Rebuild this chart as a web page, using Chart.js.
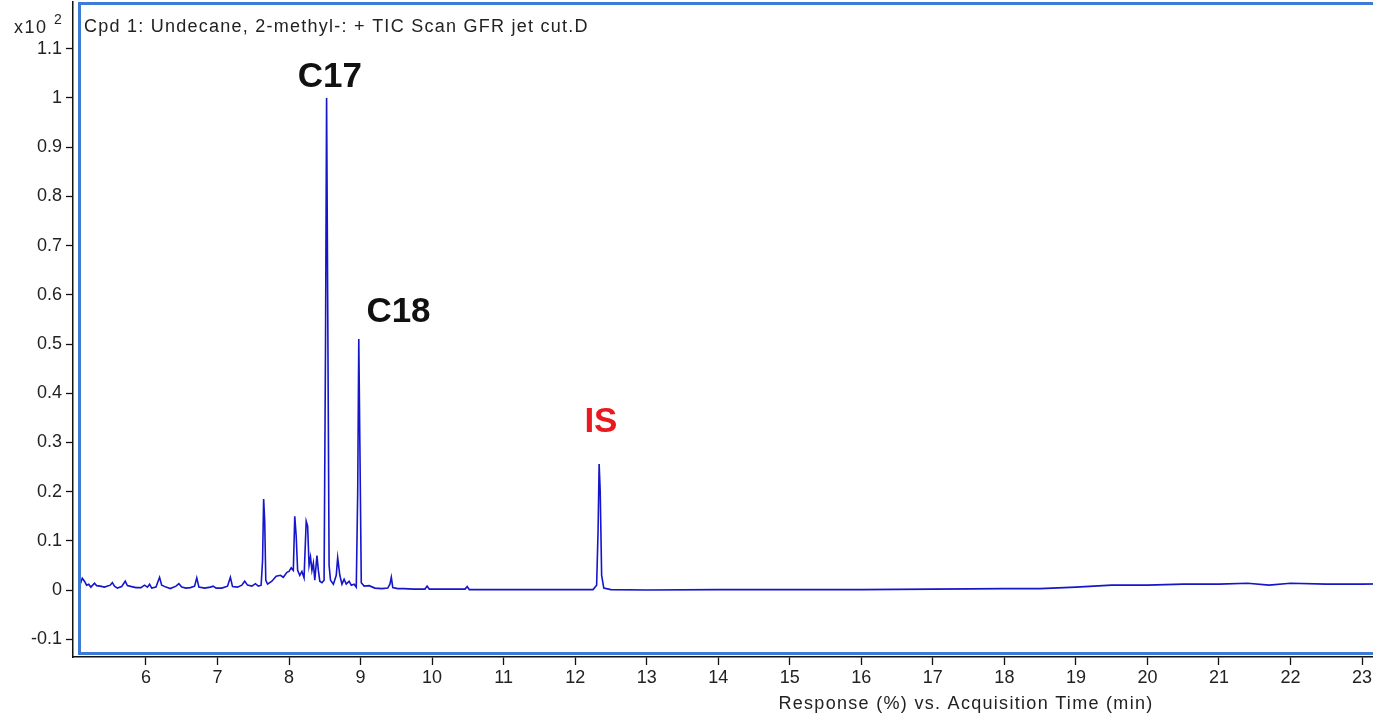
<!DOCTYPE html>
<html>
<head>
<meta charset="utf-8">
<script src="https://cdn.jsdelivr.net/npm/chart.js@4/dist/chart.umd.min.js"></script>
<style>
  html, body { margin: 0; padding: 0; background: #fff; overflow: hidden; }
  #wrap { width: 1420px; height: 714px; }
</style>
</head>
<body>
<div id="wrap"><canvas id="tic" width="1420" height="714"></canvas></div>
<script>
// acquisition time (min) and response (x10^2 %)
const times = [
  5.06, 5.08, 5.11, 5.14, 5.17, 5.20, 5.23, 5.28, 5.31, 5.36, 5.42, 5.50, 5.53, 5.56, 5.60,
  5.66, 5.71, 5.74, 5.80, 5.86, 5.93, 5.98, 6.02, 6.05, 6.08, 6.14, 6.19, 6.22, 6.28, 6.34,
  6.42, 6.46, 6.50, 6.56, 6.62, 6.68, 6.71, 6.74, 6.82, 6.90, 6.94, 6.98, 7.06, 7.14, 7.18,
  7.21, 7.28, 7.34, 7.38, 7.42, 7.48, 7.53, 7.57, 7.61, 7.63, 7.645, 7.66, 7.675, 7.70, 7.76,
  7.82, 7.88, 7.92, 7.97, 8.00, 8.03, 8.06, 8.08, 8.10, 8.12, 8.15, 8.18, 8.21, 8.24, 8.26,
  8.28, 8.30, 8.32, 8.34, 8.36, 8.39, 8.41, 8.43, 8.46, 8.49, 8.51, 8.525, 8.54, 8.56, 8.58,
  8.62, 8.66, 8.68, 8.71, 8.74, 8.77, 8.80, 8.84, 8.87, 8.91, 8.94, 8.96, 8.975, 8.99, 9.01,
  9.05, 9.12, 9.20, 9.30, 9.38, 9.41, 9.43, 9.45, 9.52, 9.60, 9.75, 9.90, 9.93, 9.96, 10.2,
  10.46, 10.49, 10.52, 11.0, 11.5, 12.0, 12.25, 12.30, 12.32, 12.335, 12.35, 12.37, 12.40, 12.5, 13.0,
  14.0, 15.0, 16.0, 17.0, 18.0, 18.5, 19.0, 19.5, 20.0, 20.5, 21.0, 21.4, 21.7, 22.0, 22.5,
  23.0, 23.4, 23.8
];
const response = [
  0.004, 0.012, 0.024, 0.018, 0.010, 0.012, 0.006, 0.014, 0.009, 0.008, 0.006, 0.010, 0.015, 0.008, 0.004,
  0.007, 0.018, 0.009, 0.007, 0.005, 0.005, 0.010, 0.006, 0.012, 0.004, 0.006, 0.026, 0.010, 0.006, 0.003,
  0.008, 0.013, 0.006, 0.004, 0.005, 0.008, 0.025, 0.006, 0.004, 0.006, 0.008, 0.004, 0.004, 0.008, 0.026,
  0.007, 0.006, 0.010, 0.018, 0.010, 0.008, 0.013, 0.008, 0.010, 0.060, 0.185, 0.140, 0.020, 0.012, 0.018,
  0.028, 0.030, 0.026, 0.036, 0.038, 0.045, 0.040, 0.150, 0.110, 0.040, 0.030, 0.038, 0.025, 0.140, 0.130,
  0.050, 0.067, 0.040, 0.055, 0.020, 0.070, 0.040, 0.018, 0.015, 0.020, 0.500, 1.000, 0.600, 0.050, 0.020,
  0.012, 0.030, 0.066, 0.030, 0.012, 0.022, 0.012, 0.018, 0.010, 0.012, 0.006, 0.200, 0.510, 0.300, 0.015,
  0.008, 0.009, 0.004, 0.003, 0.004, 0.012, 0.026, 0.005, 0.003, 0.003, 0.002, 0.002, 0.008, 0.002, 0.002,
  0.002, 0.007, 0.001, 0.001, 0.001, 0.001, 0.001, 0.010, 0.120, 0.256, 0.200, 0.030, 0.004, 0.001, 0.000,
  0.001, 0.001, 0.001, 0.002, 0.003, 0.003, 0.006, 0.010, 0.010, 0.012, 0.012, 0.014, 0.010, 0.014, 0.012,
  0.012, 0.013, 0.013
];

const xTicks = [6, 7, 8, 9, 10, 11, 12, 13, 14, 15, 16, 17, 18, 19, 20, 21, 22, 23];
const yTicks = [-0.1, 0, 0.1, 0.2, 0.3, 0.4, 0.5, 0.6, 0.7, 0.8, 0.9, 1, 1.1];

// peak labels: text, time, response at label centre, colour
const peakNames = ["C17", "C18", "IS"];
const peakTimes = [8.57, 9.53, 12.36];
const peakLevels = [1.041, 0.564, 0.341];
const peakColors = ["#111", "#111", "#e8191f"];

const FONT = "Arial, 'Liberation Sans', sans-serif";

const decor = {
  id: "decor",
  afterDatasetsDraw(chart) {
    const { ctx, chartArea: a, scales } = chart;
    ctx.save();

    // blue plot frame
    ctx.strokeStyle = "#3d7bd6";
    ctx.lineWidth = 3;
    ctx.beginPath();
    ctx.moveTo(a.right + 5, a.top + 1.5);
    ctx.lineTo(a.left + 6.5, a.top + 1.5);
    ctx.lineTo(a.left + 6.5, a.bottom - 3.5);
    ctx.lineTo(a.right + 5, a.bottom - 3.5);
    ctx.stroke();

    // trace title
    ctx.fillStyle = "#222";
    ctx.font = "18px " + FONT;
    ctx.letterSpacing = "1.25px";
    ctx.textBaseline = "alphabetic";
    ctx.textAlign = "left";
    ctx.fillText("Cpd 1: Undecane, 2-methyl-: + TIC Scan GFR jet cut.D", 84, 32);

    // y multiplier
    ctx.letterSpacing = "1.5px";
    ctx.fillText("x10", 14, 33);
    ctx.font = "14px " + FONT;
    ctx.fillText("2", 54, 24);

    // x title
    ctx.font = "18px " + FONT;
    ctx.letterSpacing = "1.3px";
    ctx.textAlign = "center";
    ctx.fillText("Response (%) vs. Acquisition Time (min)", 966, 709);

    // peak labels
    ctx.letterSpacing = "0px";
    ctx.font = "bold 35px " + FONT;
    ctx.textBaseline = "middle";
    peakNames.forEach((name, i) => {
      ctx.fillStyle = peakColors[i];
      ctx.fillText(name, scales.x.getPixelForValue(peakTimes[i]), scales.y.getPixelForValue(peakLevels[i]));
    });
    ctx.restore();
  }
};

new Chart(document.getElementById("tic"), {
  type: "line",
  data: {
    datasets: [{
      data: times.map((t, i) => ({ x: t, y: response[i] })),
      borderColor: "#1515cc",
      borderWidth: 1.6,
      pointRadius: 0,
      tension: 0,
      fill: false
    }]
  },
  options: {
    responsive: false,
    animation: false,
    layout: { padding: { top: 2, left: 0, right: 0, bottom: 0 } },
    plugins: { legend: { display: false }, tooltip: { enabled: false } },
    scales: {
      x: {
        type: "linear",
        min: 4.98,
        max: 23.81,
        afterFit: s => { s.height = 57; s.paddingLeft = 0; s.paddingRight = 0; },
        afterBuildTicks: s => { s.ticks = xTicks.map(v => ({ value: v })); },
        ticks: {
          color: "#222",
          font: { size: 18, family: FONT },
          padding: 2,
          maxRotation: 0,
          autoSkip: false,
          callback: v => String(v)
        },
        grid: { drawOnChartArea: false, drawTicks: true, tickLength: 8, color: "#111", tickWidth: 1.3 },
        border: { display: true, color: "#111", width: 1.5 }
      },
      y: {
        min: -0.136,
        max: 1.195,
        afterFit: s => { s.width = 73; s.paddingTop = 0; s.paddingBottom = 0; },
        afterBuildTicks: s => { s.ticks = yTicks.map(v => ({ value: v })); },
        ticks: {
          color: "#222",
          font: { size: 18, family: FONT },
          padding: 4,
          autoSkip: false,
          callback: v => String(Math.round(v * 10) / 10)
        },
        grid: { drawOnChartArea: false, drawTicks: true, tickLength: 7, color: "#111", tickWidth: 1.3 },
        border: { display: true, color: "#111", width: 1.5 }
      }
    }
  },
  plugins: [decor]
});
</script>
</body>
</html>
